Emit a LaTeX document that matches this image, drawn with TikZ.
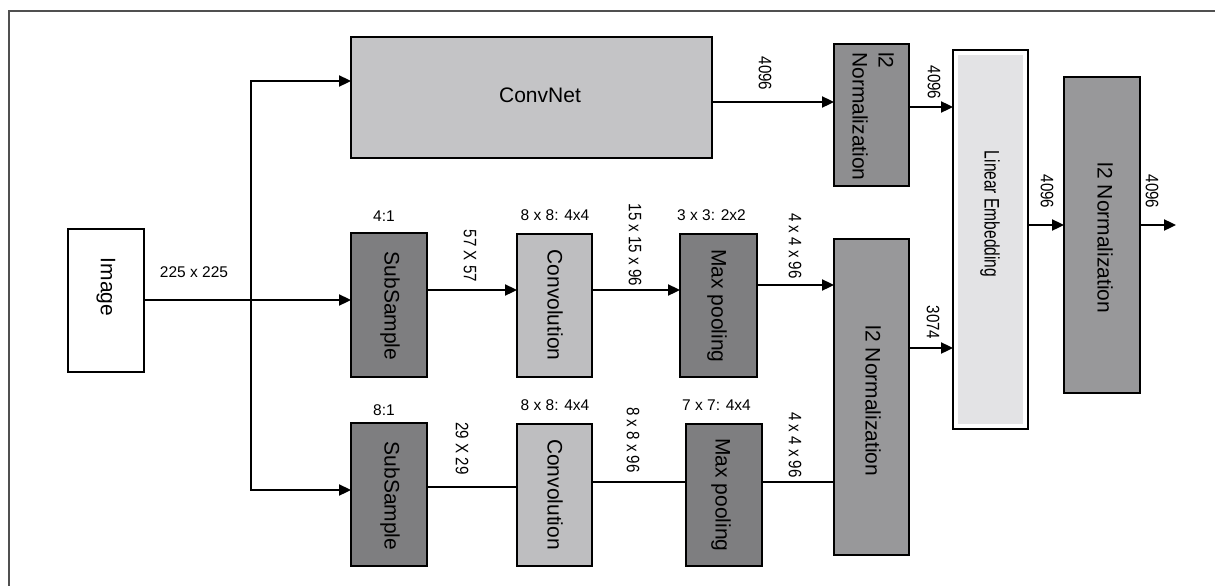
\documentclass[tikz,border=0pt]{standalone}
\usepackage{fontspec}
\usepackage{graphicx}
\setmainfont{Liberation Sans}
\usetikzlibrary{arrows.meta}
\definecolor{dk}{HTML}{7E7E80}
\definecolor{lt}{HTML}{BEBEC0}
\definecolor{cnfill}{HTML}{C4C4C6}
\definecolor{nA}{HTML}{8E8E90}
\definecolor{nB}{HTML}{98989A}
\definecolor{lefill}{HTML}{E3E3E5}
\definecolor{framec}{HTML}{505050}
\begin{document}
\begin{tikzpicture}[x=1pt,y=-1pt,
  box/.style={draw=black, line width=2.8pt, inner sep=0pt, outer sep=0pt},
  boxtext/.style={rotate=-90, font=\fontsize{21}{26}\selectfont, inner sep=0pt},
  lbl/.style={font=\fontsize{15.5}{18}\selectfont, inner sep=0pt},
  rlbl/.style={font=\fontsize{18}{20}\selectfont, inner sep=0pt, rotate=-90},
  conn/.style={line width=2.3pt},
  arr/.style={conn, -{Triangle[length=12pt,width=11pt]}},
]
\useasboundingbox (0,0) rectangle (1215,586);
\draw[framec, line width=1.5pt] (9,600) -- (9,11) -- (1230,11);

% boxes
\node[box, fill=white, minimum width=76pt, minimum height=143pt] (img) at (106,300.5) {};
\node[box, fill=cnfill, minimum width=361pt, minimum height=121pt] (cn) at (531.5,97.5) {};
\node[box, fill=dk, minimum width=76pt, minimum height=144pt] (ss1) at (389,305) {};
\node[box, fill=lt, minimum width=75pt, minimum height=143pt] (cv1) at (554.5,305.5) {};
\node[box, fill=dk, minimum width=77pt, minimum height=143pt] (mp1) at (718.5,305.5) {};
\node[box, fill=dk, minimum width=76pt, minimum height=143pt] (ss2) at (389,494.5) {};
\node[box, fill=lt, minimum width=75pt, minimum height=142pt] (cv2) at (554.5,495) {};
\node[box, fill=dk, minimum width=76pt, minimum height=142pt] (mp2) at (724,495) {};
\node[box, fill=nA, minimum width=75pt, minimum height=142pt] (ln1) at (871.5,115) {};
\node[box, fill=nB, minimum width=75pt, minimum height=316pt] (ln2) at (871.5,397) {};
\node[box, fill=white, minimum width=75pt, minimum height=379pt] (le) at (990.5,239.5) {};
\fill[lefill] ([shift={(5pt,-5pt)}]le.north west) rectangle ([shift={(-5pt,5pt)}]le.south east);
\node[box, fill=nB, minimum width=76pt, minimum height=316pt] (ln3) at (1102,235) {};

% box texts
\node[boxtext] (imgt) at (106,287) {Image};
\node[font=\fontsize{21}{26}\selectfont, inner sep=0pt] (cnt) at (540,95) {ConvNet};
\node[boxtext] (ss1t) at (390,306) {SubSample};
\node[boxtext] (cv1t) at (555,305) {Convolution};
\node[boxtext] (mp1t) at (717,306) {Max pooling};
\node[boxtext] (ss2t) at (390,496) {SubSample};
\node[boxtext] (cv2t) at (555,494.5) {Convolution};
\node[boxtext] (mp2t) at (721,495) {Max pooling};
\node[boxtext, anchor=west, align=left] (ln1t) at (873,52) {l2\\Normalization};
\node[boxtext] (ln2t) at (873,401) {l2 Normalization};
\node[boxtext] (let) at (990,214) {\scalebox{0.74}[1]{Linear Embedding}};
\node[boxtext] (ln3t) at (1105,238) {l2 Normalization};

% connectors
\coordinate (jn) at (251,300);
\coordinate (out) at (1176,225);
\draw[arr] (img.east |- 0,300) -- (ss1.west |- 0,300);
\draw[arr] (jn) |- (cn.west |- 0,81);
\draw[arr] (jn) |- (ss2.west |- 0,490);
\draw[arr] (ss1.east |- 0,290) -- (cv1.west |- 0,290);
\draw[arr] (cv1.east |- 0,290) -- (mp1.west |- 0,290);
\draw[arr] (mp1.east |- 0,285) -- (ln2.west |- 0,285);
\draw[arr] (cn.east |- 0,102) -- (ln1.west |- 0,102);
\draw[arr] (ln1.east |- 0,107) -- (le.west |- 0,107);
\draw[arr] (ln2.east |- 0,348) -- (le.west |- 0,348);
\draw[arr] (le.east |- 0,225) -- (ln3.west |- 0,225);
\draw[arr] (ln3.east |- 0,225) -- (out);
\draw[conn] (ss2.east |- 0,487) -- (cv2.west |- 0,487);
\draw[conn] (cv2.east |- 0,482) -- (mp2.west |- 0,482);
\draw[conn] (mp2.east |- 0,482) -- (ln2.west |- 0,482);

% labels
\node[lbl] (l225) at (194,272) {225 x 225};
\node[lbl] (l41) at (384,216) {4:1};
\node[lbl] (l81) at (384,410) {8:1};
\node[lbl] (lk1) at (555,215) {8 x 8: 4x4};
\node[lbl] (lp1) at (711.5,215) {3 x 3: 2x2};
\node[lbl] (lk2) at (555,405) {8 x 8: 4x4};
\node[lbl] (lp2) at (716.5,405) {7 x 7: 4x4};

\node[rlbl] (r1) at (765,73.5) {\scalebox{0.84}[1]{4096}};
\node[rlbl] (r2) at (934,82.5) {\scalebox{0.84}[1]{4096}};
\node[rlbl] (r3) at (1047,191.5) {\scalebox{0.84}[1]{4096}};
\node[rlbl] (r4) at (1152,191.5) {\scalebox{0.84}[1]{4096}};
\node[rlbl] (r5) at (933,322.5) {\scalebox{0.84}[1]{3074}};
\node[rlbl] (r6) at (470,256) {\scalebox{0.84}[1]{57 X 57}};
\node[rlbl] (r7) at (635,245) {\scalebox{0.84}[1]{15 x 15 x 96}};
\node[rlbl] (r8) at (795,246) {\scalebox{0.84}[1]{4 x 4 x 96}};
\node[rlbl] (r9) at (462,448.5) {\scalebox{0.84}[1]{29 X 29}};
\node[rlbl] (r10) at (633,440) {\scalebox{0.84}[1]{8 x 8 x 96}};
\node[rlbl] (r11) at (795,445) {\scalebox{0.84}[1]{4 x 4 x 96}};
\end{tikzpicture}
\end{document}
